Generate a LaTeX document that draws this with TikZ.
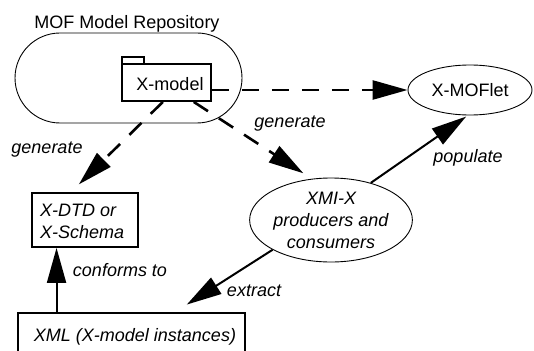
\documentclass[tikz,border=0pt]{standalone}
\usepackage{fontspec}
\setmainfont{Liberation Sans}
\usetikzlibrary{arrows.meta,calc,shapes.geometric}

\tikzset{
  x=1pt, y=-1pt,
  every node/.style={font=\fontsize{18}{22}\selectfont, inner sep=0pt},
  boxnode/.style={draw, line width=1.8pt},
  ovalnode/.style={draw, ellipse, line width=0.9pt},
  lbl/.style={font=\fontsize{18}{22}\selectfont\itshape},
  bigtip/.style={-{Triangle[length=35pt,width=19pt]}},
  solidarrow/.style={bigtip, line width=2pt},
  dasharrow/.style={bigtip, line width=2.6pt, dash pattern=on 17pt off 13pt},
}

\begin{document}
\begin{tikzpicture}
\useasboundingbox (0,0) rectangle (534,350);

% repository container
\node[draw, line width=0.9pt, rounded corners=45pt,
      minimum width=227pt, minimum height=90pt] (repo) at (128.5,78) {};
\node (repotitle) at (127,24) {MOF Model Repository};

% X-model package (tab + body)
\node[boxnode, minimum width=22pt, minimum height=7pt, line width=1.5pt]
  (xtab) at (133,60.5) {};
\node[boxnode, minimum width=89pt, minimum height=37pt] (xmodel) at (166.5,82.5) {};
\node (xmodeltext) at (170,84) {X-model};

% other nodes
\node[ovalnode, minimum width=124pt, minimum height=50pt] (moflet) at (470,90) {X-MOFlet};
\node[ovalnode, minimum width=144pt, minimum height=84pt, align=center, lbl]
  (xmi) at (331,220) {XMI-X\\producers and\\consumers};
\node[boxnode, minimum width=106pt, minimum height=54pt] (dtd) at (85,220) {};
\node[lbl, align=left, anchor=west] (dtdtext) at (40,221) {X-DTD or\\X-Schema};
\node[boxnode, minimum width=227pt, minimum height=44pt] (xml) at (131.5,335) {};
\node[lbl] (xmltext) at (135,337) {XML (X-model instances)};

% anchor points along box edges
\coordinate (xmsA) at ($(xmodel.south west)!0.46!(xmodel.south east)$);
\coordinate (xmsB) at ($(xmodel.south west)!0.80!(xmodel.south east)$);
\coordinate (dtdN) at ($(dtd.north west)!0.37!(dtd.north east)$);
\coordinate (dtdS) at ($(dtd.south west)!0.236!(dtd.south east)$);
\coordinate (xmlN) at ($(xml.north west)!0.69!(xml.north east)$);

% connectors
\draw[dasharrow] (xmodel.east |- moflet.west) -- (moflet.west);
\draw[dasharrow, shorten >=11pt] (xmsA) -- (dtdN);
\draw[dasharrow, shorten >=10pt] (xmsB) -- (xmi.115);
\draw[solidarrow, shorten >=2pt] (xmi.43) -- (moflet.265);
\draw[solidarrow, shorten >=14pt] (xmi.207) -- (xmlN);
\draw[solidarrow] (dtdS |- xml.north) -- (dtdS);

% labels
\node[lbl] (lgen1) at (47,150) {generate};
\node[lbl] (lgen2) at (290,124) {generate};
\node[lbl] (lpop) at (468,158) {populate};
\node[lbl] (lext) at (254,291) {extract};
\node[lbl] (lconf) at (120,270) {conforms to};
\end{tikzpicture}
\end{document}
